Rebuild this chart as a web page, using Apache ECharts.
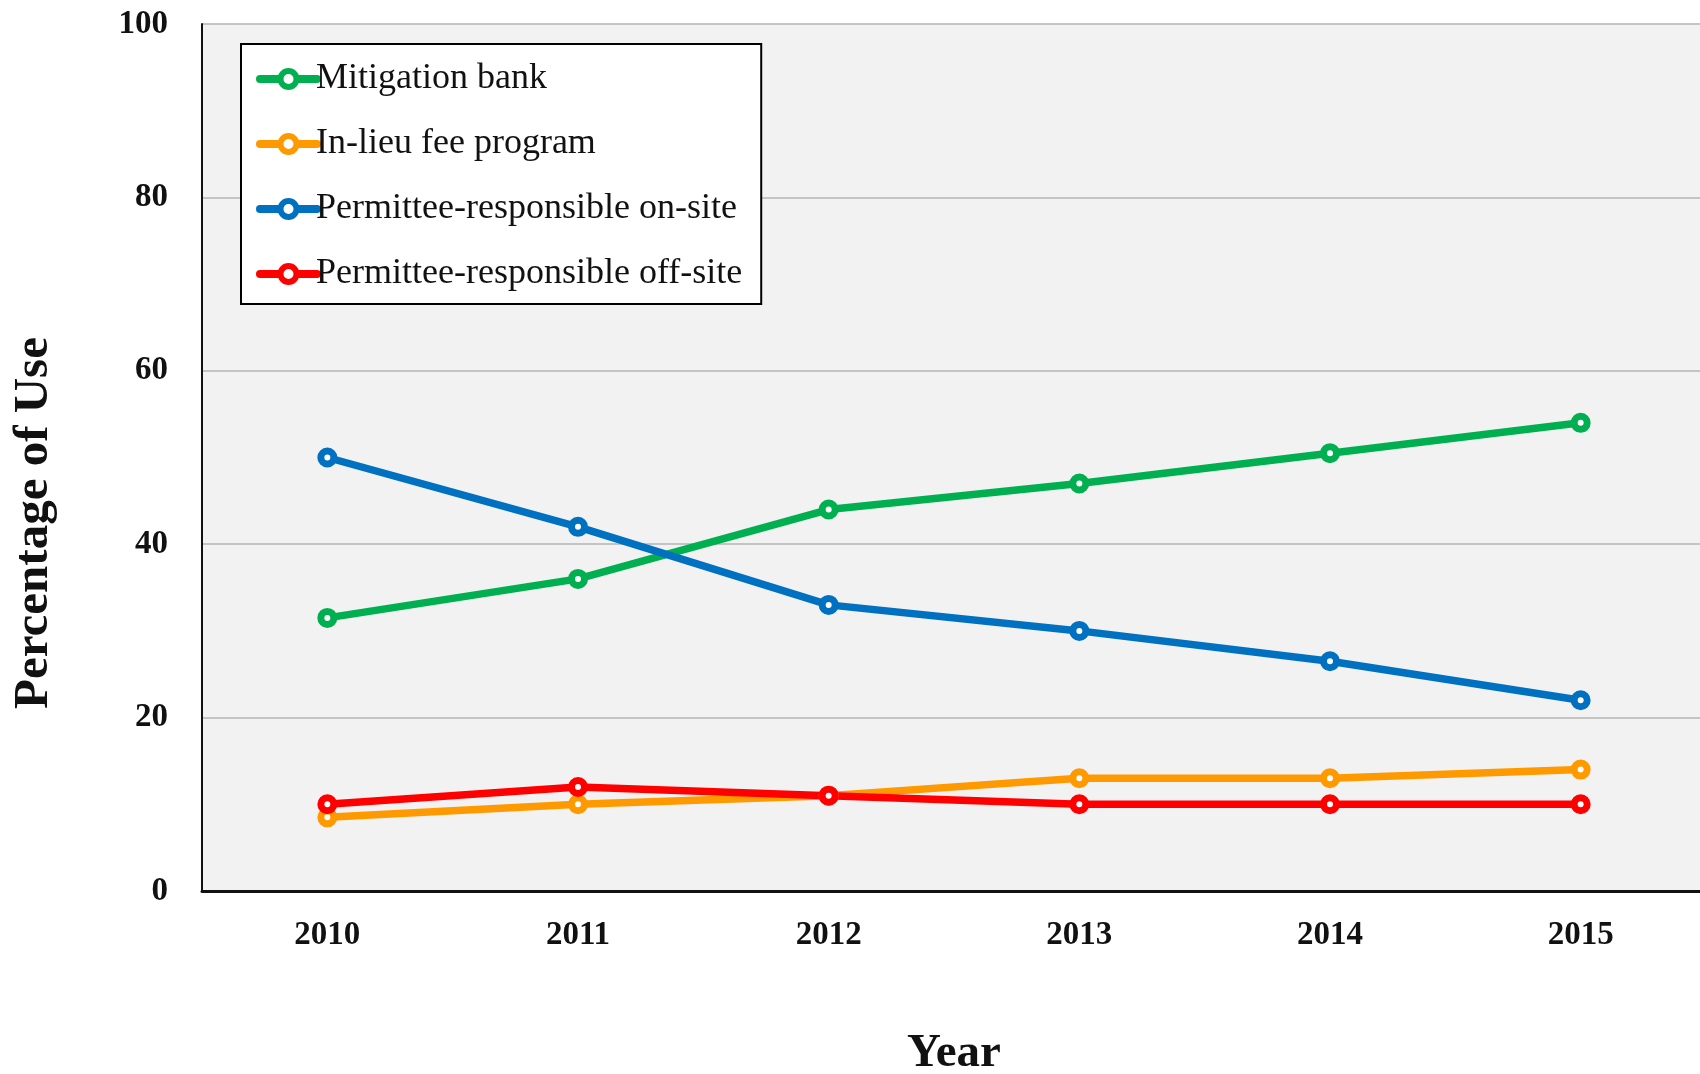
<!DOCTYPE html>
<html>
<head>
<meta charset="utf-8">
<script src="https://cdn.jsdelivr.net/npm/echarts@6/dist/echarts.min.js"></script>
<style>
html,body{margin:0;padding:0;background:#fff;}
#chart{width:1700px;height:1074px;}
</style>
</head>
<body>
<div id="chart"></div>
<script>
const years = ['2010','2011','2012','2013','2014','2015'];
const mitigationBank = [31.5, 36, 44, 47, 50.5, 54];
const inLieuFee = [8.5, 10, 11, 13, 13, 14];
const onSite = [50, 42, 33, 30, 26.5, 22];
const offSite = [10, 12, 11, 10, 10, 10];
const seriesNames = ['Mitigation bank','In-lieu fee program','Permittee-responsible on-site','Permittee-responsible off-site'];
const seriesColors = ['#00B050','#FF9900','#0070C0','#FF0000'];
const yTicks = [0, 20, 40, 60, 80, 100];

const FONT = '"Liberation Serif", "DejaVu Serif", serif';
const chart = echarts.init(document.getElementById('chart'));

function mk(name, data, color) {
  return {
    name: name, type: 'line', data: data,
    symbol: 'circle', symbolSize: 13,
    lineStyle: {color: color, width: 7.5},
    itemStyle: {color: '#FFFFFF', borderColor: color, borderWidth: 7},
    emphasis: {disabled: true},
    animation: false
  };
}

chart.setOption({
  animation: false,
  textStyle: {fontFamily: FONT},
  grid: {left: 202, top: 24, width: 1504, bottom: 183, outerBoundsMode: 'none', containLabel: false,
         show: true, backgroundColor: '#F2F2F2', borderWidth: 0},
  legend: {
    left: 241, top: 44, orient: 'vertical',
    backgroundColor: '#FFFFFF', borderColor: '#000', borderWidth: 2,
    padding: [17, 19, 12, 15],
    itemWidth: 57, itemHeight: 20, itemGap: 29,
    lineStyle: {width: 8, cap: 'round'},
    itemStyle: {borderWidth: 6},
    textStyle: {fontFamily: FONT, fontSize: 36, color: '#111', padding: [0,0,0,-6]},
    data: seriesNames
  },
  xAxis: {
    type: 'category', data: years, boundaryGap: true,
    axisLine: {show: true, lineStyle: {color: '#111', width: 3}},
    axisTick: {show: false},
    axisLabel: {fontFamily: FONT, fontSize: 33, fontWeight: 'bold', color: '#111', margin: 28},
    splitLine: {show: false}
  },
  yAxis: {
    type: 'value', min: yTicks[0], max: yTicks[yTicks.length-1], interval: 20,
    axisLine: {show: true, lineStyle: {color: '#111', width: 2}},
    axisTick: {show: false},
    axisLabel: {fontFamily: FONT, fontSize: 33, fontWeight: 'bold', color: '#111', margin: 34},
    splitLine: {show: true, lineStyle: {color: '#C4C4C4', width: 2}}
  },
  graphic: [
    {type: 'text', x: 34, y: 523, rotation: Math.PI/2,
     style: {text: 'Percentage of Use', font: 'bold 49px ' + FONT, fill: '#111', textAlign: 'center', textVerticalAlign: 'middle'}},
    {type: 'text', x: 954, y: 1054,
     style: {text: 'Year', font: 'bold 47px ' + FONT, fill: '#111', textAlign: 'center', textVerticalAlign: 'middle'}}
  ],
  series: [
    mk(seriesNames[0], mitigationBank, seriesColors[0]),
    mk(seriesNames[1], inLieuFee, seriesColors[1]),
    mk(seriesNames[2], onSite, seriesColors[2]),
    mk(seriesNames[3], offSite, seriesColors[3])
  ]
});
</script>
</body>
</html>
